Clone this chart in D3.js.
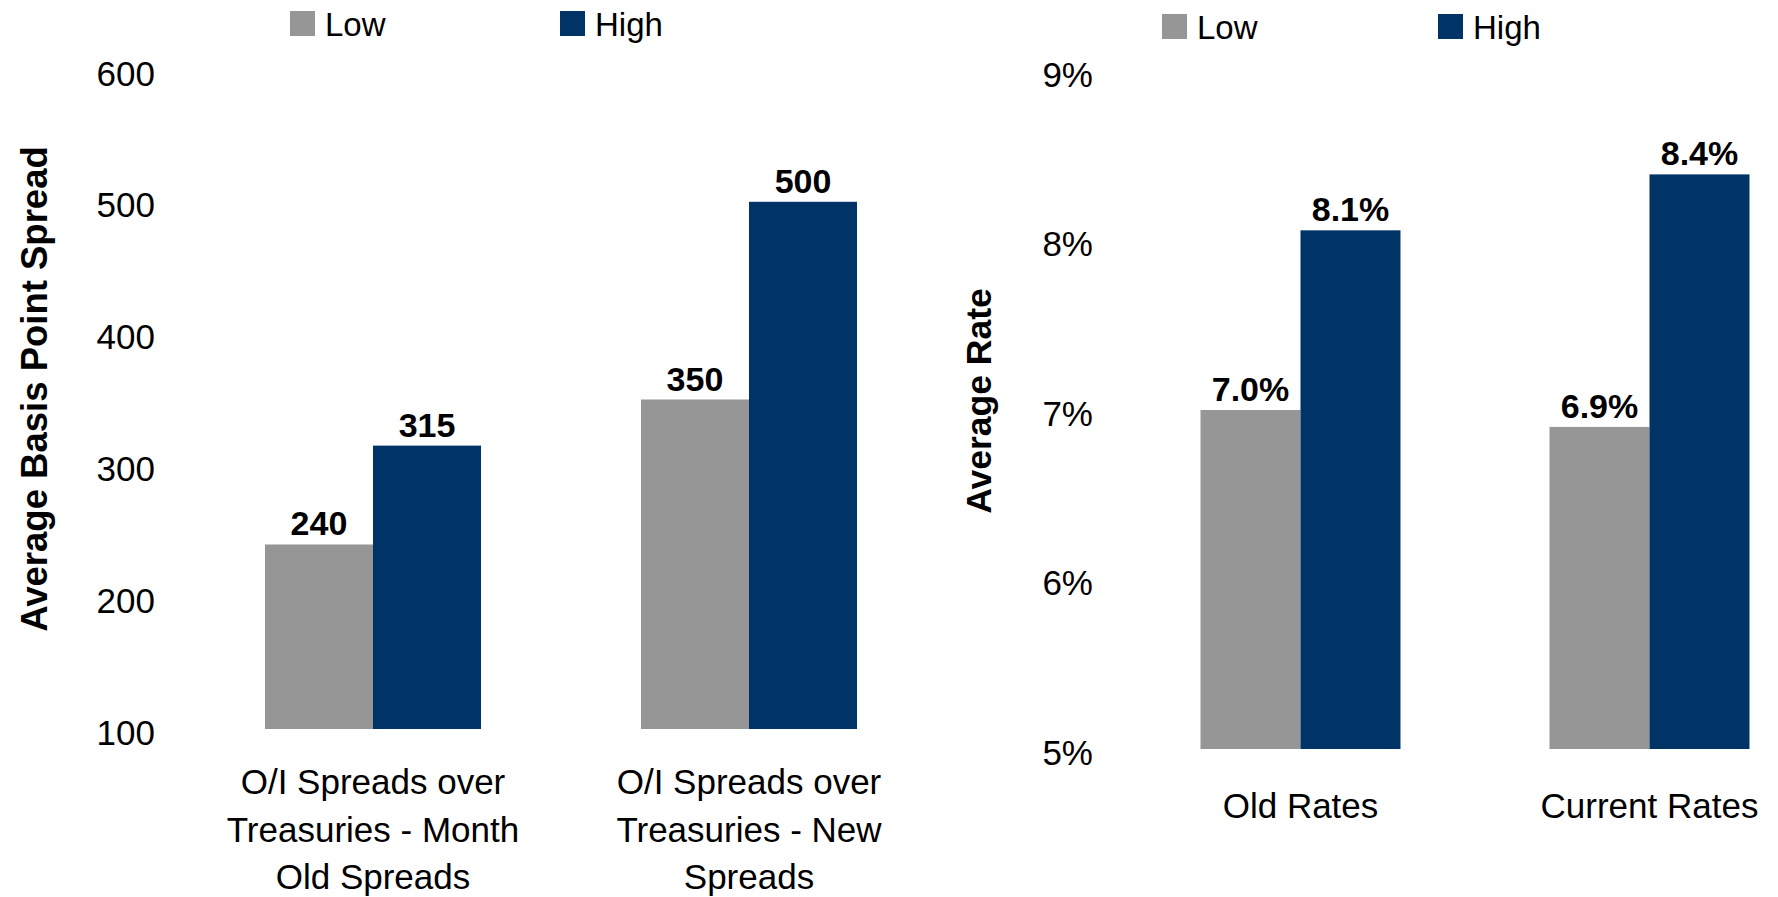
<!DOCTYPE html>
<html>
<head>
<meta charset="utf-8">
<script src="https://cdn.jsdelivr.net/npm/d3@7"></script>
<style>
  html, body { margin: 0; padding: 0; background: #fff; }
  svg { display: block; font-family: "Liberation Sans", Arial, sans-serif; }
</style>
</head>
<body>
<svg id="chart" width="1778" height="897"></svg>
<script>
// ---- Data ----
const seriesNames = ["Low", "High"];
const seriesColors = ["#969696", "#003366"];

// Left panel: Average Basis Point Spread
const spreadCategories = [
  "O/I Spreads over Treasuries - Month Old Spreads",
  "O/I Spreads over Treasuries - New Spreads"
];
const spreadCategoryLines = [
  ["O/I Spreads over", "Treasuries - Month", "Old Spreads"],
  ["O/I Spreads over", "Treasuries - New", "Spreads"]
];
const spreadLow = [240, 350];
const spreadHigh = [315, 500];
const spreadLabelsLow = ["240", "350"];
const spreadLabelsHigh = ["315", "500"];
const spreadTicks = [100, 200, 300, 400, 500, 600];
const spreadTickLabels = ["100", "200", "300", "400", "500", "600"];
const spreadTitle = "Average Basis Point Spread";

// Right panel: Average Rate (%)
const rateCategories = ["Old Rates", "Current Rates"];
const rateCategoryLines = [["Old Rates"], ["Current Rates"]];
const rateLow = [7.0, 6.9];
const rateHigh = [8.06, 8.39];
const rateLabelsLow = ["7.0%", "6.9%"];
const rateLabelsHigh = ["8.1%", "8.4%"];
const rateTicks = [5, 6, 7, 8, 9];
const rateTickLabels = ["5%", "6%", "7%", "8%", "9%"];
const rateTitle = "Average Rate";

// ---- Drawing ----
const svg = d3.select("#chart");

function drawPanel(cfg) {
  const g = svg.append("g");
  const x = d3.scaleBand()
    .domain(cfg.categories)
    .range(cfg.xRange)
    .paddingInner(cfg.padInner)
    .paddingOuter(cfg.padInner / 2);
  const xs = d3.scaleBand()
    .domain(seriesNames)
    .range([0, x.bandwidth()]);
  const y = d3.scaleLinear().domain(cfg.yDomain).range(cfg.yRange);

  // y axis (labels only)
  const axis = d3.axisLeft(y)
    .tickValues(cfg.ticks)
    .tickFormat((d, i) => cfg.tickLabels[i])
    .tickSize(0)
    .tickPadding(0);
  const ag = g.append("g")
    .attr("transform", `translate(${cfg.tickRight},0)`)
    .call(axis);
  ag.select(".domain").remove();
  ag.selectAll("text")
    .attr("font-family", "Liberation Sans, Arial, sans-serif")
    .attr("font-size", 35)
    .attr("fill", "#000")
    .attr("dy", "0.43em");

  // bars
  const rows = cfg.categories.map((c, i) => ({
    cat: c,
    vals: [
      { s: "Low", v: cfg.low[i], lab: cfg.labLow[i] },
      { s: "High", v: cfg.high[i], lab: cfg.labHigh[i] }
    ]
  }));
  const groups = g.selectAll("g.grp").data(rows).enter().append("g")
    .attr("class", "grp")
    .attr("transform", d => `translate(${x(d.cat)},0)`);
  groups.selectAll("rect").data(d => d.vals).enter().append("rect")
    .attr("x", d => xs(d.s))
    .attr("width", xs.bandwidth())
    .attr("y", d => y(d.v))
    .attr("height", d => y(cfg.yDomain[0]) - y(d.v))
    .attr("fill", (d, i) => seriesColors[i]);
  groups.selectAll("text.val").data(d => d.vals).enter().append("text")
    .attr("class", "val")
    .attr("x", d => xs(d.s) + xs.bandwidth() / 2)
    .attr("y", d => y(d.v) - 9)
    .attr("text-anchor", "middle")
    .attr("font-size", 34)
    .attr("font-weight", "bold")
    .attr("fill", "#000")
    .text(d => d.lab);

  // category labels
  cfg.categories.forEach((c, i) => {
    const t = g.append("text")
      .attr("text-anchor", "middle")
      .attr("font-size", 35)
      .attr("fill", "#000");
    cfg.lines[i].forEach((ln, k) => {
      t.append("tspan")
        .attr("x", x(c) + x.bandwidth() / 2)
        .attr("y", y(cfg.yDomain[0]) + cfg.labelOffset + k * 47.5)
        .text(ln);
    });
  });

  // y title
  g.append("text")
    .attr("transform", `translate(${cfg.titleX},${cfg.titleY}) rotate(-90)`)
    .attr("text-anchor", "middle")
    .attr("font-size", cfg.titleSize)
    .attr("font-weight", "bold")
    .attr("fill", "#000")
    .text(cfg.title);

  // legend
  seriesNames.forEach((s, i) => {
    g.append("rect")
      .attr("x", cfg.legendX[i])
      .attr("y", cfg.legendY)
      .attr("width", 25)
      .attr("height", 25)
      .attr("fill", seriesColors[i]);
    g.append("text")
      .attr("x", cfg.legendX[i] + 35)
      .attr("y", cfg.legendY + 25)
      .attr("font-size", 33)
      .attr("fill", "#000")
      .text(s);
  });
}

drawPanel({
  categories: spreadCategories,
  lines: spreadCategoryLines,
  low: spreadLow, high: spreadHigh,
  labLow: spreadLabelsLow, labHigh: spreadLabelsHigh,
  ticks: spreadTicks, tickLabels: spreadTickLabels,
  title: spreadTitle, titleSize: 36.5,
  xRange: [185, 937], padInner: 0.4255,
  yDomain: [100, 600], yRange: [729, 70],
  tickRight: 155,
  labelOffset: 65,
  titleX: 47, titleY: 389,
  legendX: [290, 560], legendY: 11
});

drawPanel({
  categories: rateCategories,
  lines: rateCategoryLines,
  low: rateLow, high: rateHigh,
  labLow: rateLabelsLow, labHigh: rateLabelsHigh,
  ticks: rateTicks, tickLabels: rateTickLabels,
  title: rateTitle, titleSize: 35.5,
  xRange: [1126, 1824], padInner: 0.427,
  yDomain: [5, 9], yRange: [749, 71],
  tickRight: 1093,
  labelOffset: 69,
  titleX: 991, titleY: 401,
  legendX: [1162, 1438], legendY: 14
});
</script>
</body>
</html>
